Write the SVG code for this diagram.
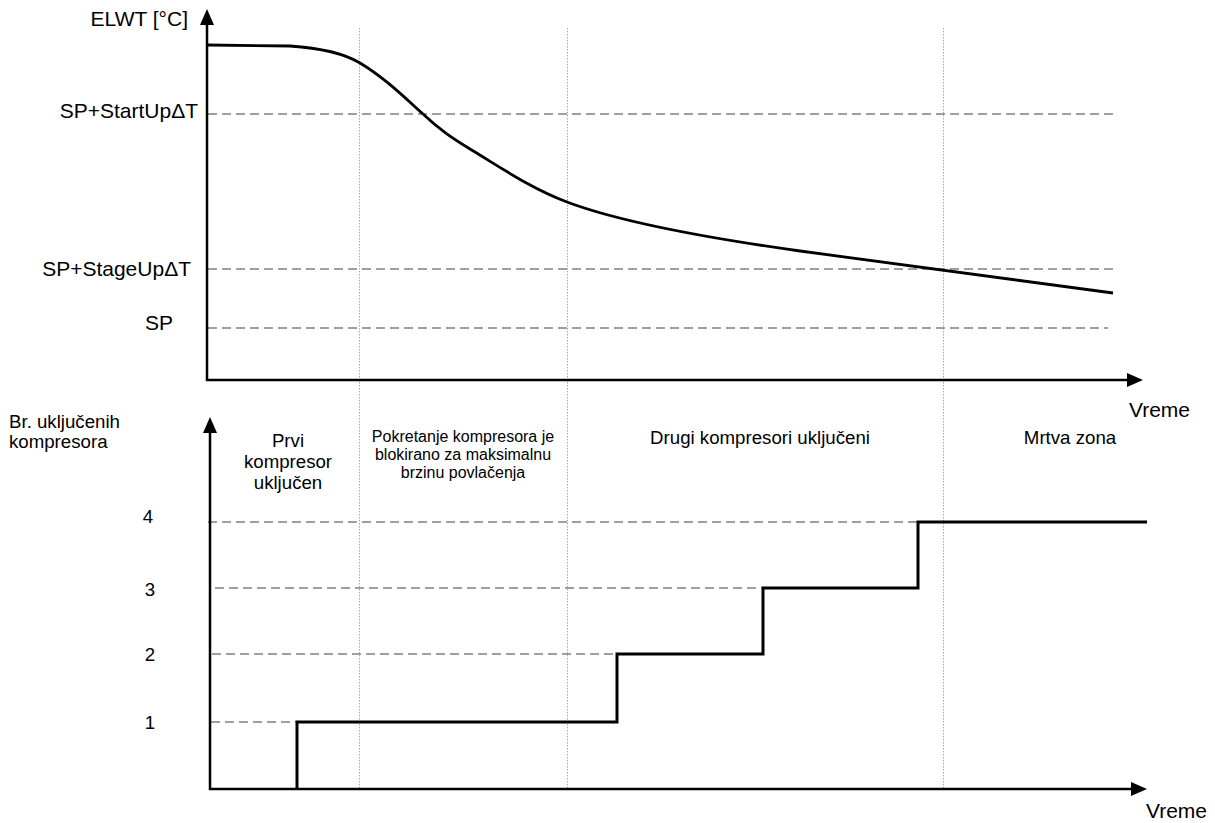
<svg xmlns="http://www.w3.org/2000/svg" width="1215" height="823" viewBox="0 0 1215 823">
<style>
text{font-family:"Liberation Sans",Arial,sans-serif;fill:#000}
.ax{stroke:#000;stroke-width:2.5;fill:none}
.dash{stroke:#808080;stroke-width:1.6;stroke-dasharray:9 5;fill:none}
.dot{stroke:#a6a6a6;stroke-width:1;stroke-dasharray:1.5 1.5;fill:none}
.crv{stroke:#000;stroke-width:2.8;fill:none;stroke-linejoin:round}
.stp{stroke:#000;stroke-width:3;fill:none;stroke-linejoin:miter}
.lbl{font-size:21px}
.mid{font-size:18.67px}
.sm{font-size:16px}
</style>
<defs>
<marker id="arr" markerWidth="16" markerHeight="14" refX="1" refY="7" orient="auto" markerUnits="userSpaceOnUse">
<path d="M0,0 L16,7 L0,14 Z" fill="#000"/>
</marker>
</defs>
<rect width="1215" height="823" fill="#fff"/>
<g id="zones">
<line class="dot" x1="359.5" y1="28" x2="359.5" y2="788"/>
<line class="dot" x1="567.5" y1="28" x2="567.5" y2="788"/>
<line class="dot" x1="943.5" y1="28" x2="943.5" y2="788"/>
</g>
<g id="guides">
<line class="dash" x1="208" y1="114" x2="1113" y2="114"/>
<line class="dash" x1="208" y1="269" x2="1113" y2="269"/>
<line class="dash" x1="208" y1="328" x2="1108" y2="328"/>
<line class="dash" x1="208" y1="522" x2="918" y2="522"/>
<line class="dash" x1="215" y1="588" x2="763" y2="588"/>
<line class="dash" x1="212" y1="654" x2="617" y2="654"/>
<line class="dash" x1="211" y1="722" x2="297" y2="722"/>
</g>
<g id="connectors">
<line class="ax" x1="207" y1="381" x2="207" y2="24" marker-end="url(#arr)"/>
<line class="ax" x1="206" y1="380" x2="1128" y2="380" marker-end="url(#arr)"/>
<line class="ax" x1="210" y1="790" x2="210" y2="432" marker-end="url(#arr)"/>
<line class="ax" x1="209" y1="789" x2="1132" y2="789" marker-end="url(#arr)"/>
</g>
<g id="elwt-curve">
<path class="crv" d="M207,45 L290,46 C320,48 345,54 360,63 C385,78 405,98 423,114 C440,130 452,138 470,149 C500,167 530,188 567,202 C620,222 700,237 800,251 C870,261 960,273 1113,293"/>
</g>
<g id="compressor-steps">
<path class="stp" d="M297,789 V722 H617 V654 H763 V588 H918 V522 H1147"/>
</g>
<g id="axis-labels">
<text class="lbl" x="188" y="26" text-anchor="end">ELWT [°C]</text>
<text class="lbl" x="198" y="118" text-anchor="end">SP+StartUpΔT</text>
<text class="lbl" x="191" y="276" text-anchor="end">SP+StageUpΔT</text>
<text class="lbl" x="173" y="330" text-anchor="end">SP</text>
<text class="lbl" x="1190" y="417" text-anchor="end">Vreme</text>
<text class="lbl" x="1207" y="818" text-anchor="end">Vreme</text>
<text class="mid" x="9" y="428">Br. uključenih</text>
<text class="mid" x="9" y="448">kompresora</text>
<text class="mid" x="148" y="523" text-anchor="middle">4</text>
<text class="mid" x="150" y="596" text-anchor="middle">3</text>
<text class="mid" x="150" y="661" text-anchor="middle">2</text>
<text class="mid" x="150" y="729" text-anchor="middle">1</text>
</g>
<g id="zone-prvi">
<text class="mid" text-anchor="middle" x="288" y="447">Prvi</text>
<text class="mid" text-anchor="middle" x="288" y="468">kompresor</text>
<text class="mid" text-anchor="middle" x="288" y="489">uključen</text>
</g>
<g id="zone-blokirano">
<text class="sm" text-anchor="middle" x="463" y="442">Pokretanje kompresora je</text>
<text class="sm" text-anchor="middle" x="463" y="460">blokirano za maksimalnu</text>
<text class="sm" text-anchor="middle" x="463" y="478">brzinu povlačenja</text>
</g>
<g id="zone-drugi">
<text class="mid" text-anchor="middle" x="760" y="444">Drugi kompresori uključeni</text>
</g>
<g id="zone-mrtva">
<text class="mid" text-anchor="middle" x="1070" y="444">Mrtva zona</text>
</g>
</svg>
